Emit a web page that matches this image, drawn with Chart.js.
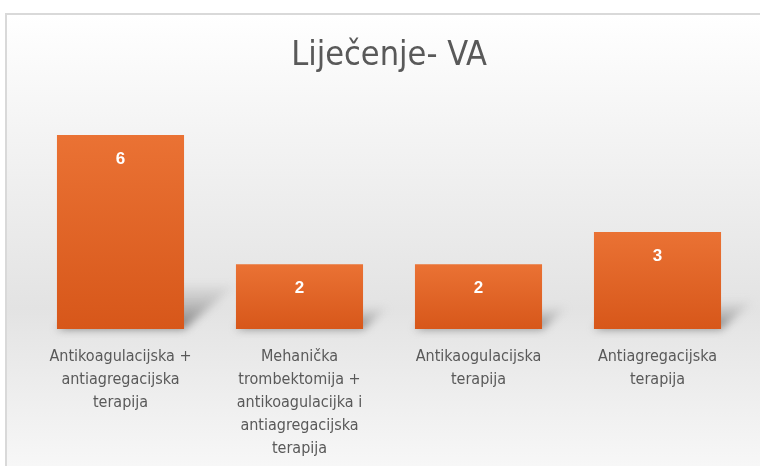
<!DOCTYPE html>
<html>
<head>
<meta charset="utf-8">
<script src="https://cdn.jsdelivr.net/npm/chart.js@4"></script>
<style>
  html, body { margin: 0; padding: 0; background: #fff; }
  #wrap { position: relative; width: 760px; height: 466px; overflow: hidden; }
  #box { position: absolute; left: 5px; top: 13px; width: 770px; height: 470px; border: 2px solid #d9d9d9; box-sizing: border-box; }
  canvas { position: absolute; left: 0; top: 0; }
</style>
</head>
<body>
<div id="wrap">
  <div id="box"></div>
  <canvas id="grafico" width="760" height="466"></canvas>
</div>
<script>
const naslov = "Liječenje- VA";
const kategorije = [
  ["Antikoagulacijska +", "antiagregacijska", "terapija"],
  ["Mehanička", "trombektomija +", "antikoagulacijka i", "antiagregacijska", "terapija"],
  ["Antikaogulacijska", "terapija"],
  ["Antiagregacijska", "terapija"]
];
const vrijednosti = [6, 2, 2, 3];

const ctx = document.getElementById("grafico").getContext("2d");
const fontUski = "'Liberation Sans Narrow', 'DejaVu Sans Condensed', 'Roboto', sans-serif";

// pozadina sa blagim prijelazom
const pozadina = {
  id: "pozadina",
  beforeDraw: (chart) => {
    const c = chart.ctx;
    const g = c.createLinearGradient(0, 15, 0, 466);
    g.addColorStop(0, "#ffffff");
    g.addColorStop(0.65, "#e3e3e3");
    g.addColorStop(1, "#f7f7f7");
    c.save();
    c.fillStyle = g;
    c.fillRect(7, 15, chart.width - 7, chart.height - 15);
    c.restore();
  }
};

// sjena iza stupaca (perspektiva prema gore desno)
const sjena = {
  id: "sjena",
  beforeDatasetsDraw: (chart) => {
    const c = chart.ctx;
    const meta = chart.getDatasetMeta(0);
    meta.data.forEach((bar) => {
      const lijevo = bar.x - bar.width / 2;
      const desno = bar.x + bar.width / 2;
      const dno = bar.base;
      const h = bar.base - bar.y;
      const dx = 12 + h * 0.2;
      const dy = dx * 0.85;
      const g = c.createLinearGradient(0, dno, 0, dno - dy);
      g.addColorStop(0, "rgba(100,100,100,0.85)");
      g.addColorStop(1, "rgba(170,170,170,0.15)");
      c.save();
      c.filter = "blur(4px)";
      c.fillStyle = g;
      c.beginPath();
      c.moveTo(lijevo, dno);
      c.lineTo(desno, dno);
      c.lineTo(desno + dx, dno - dy);
      c.lineTo(lijevo + dx, dno - dy);
      c.closePath();
      c.fill();
      c.restore();
    });
  }
};

// brojevi na vrhu stupaca
const oznake = {
  id: "oznake",
  afterDatasetsDraw: (chart) => {
    const c = chart.ctx;
    const meta = chart.getDatasetMeta(0);
    c.save();
    c.fillStyle = "#ffffff";
    c.font = "bold 17px 'Liberation Sans', Arial, sans-serif";
    c.textAlign = "center";
    c.textBaseline = "middle";
    meta.data.forEach((bar, i) => {
      c.fillText(vrijednosti[i], bar.x, bar.y + 24);
    });
    c.restore();
  }
};

let myChart = new Chart(ctx, {
  type: "bar",
  data: {
    labels: kategorije,
    datasets: [
      {
        data: vrijednosti,
        backgroundColor: (context) => {
          const chart = context.chart;
          if (!chart.chartArea || context.raw === undefined) return "#e46c2c";
          const y = chart.scales.y;
          const vrh = y.getPixelForValue(context.raw);
          const dno = y.getPixelForValue(0);
          const g = chart.ctx.createLinearGradient(0, vrh, 0, dno);
          g.addColorStop(0, "#ea7234");
          g.addColorStop(1, "#d7571a");
          return g;
        },
        borderWidth: 0,
        barPercentage: 0.71,
        categoryPercentage: 1,
      },
    ],
  },
  plugins: [pozadina, sjena, oznake],
  options: {
    responsive: false,
    animation: false,
    layout: { padding: { left: 31, right: 13, top: 20, bottom: 0 } },
    plugins: {
      legend: { display: false },
      tooltip: { enabled: false },
      title: {
        display: true,
        text: naslov,
        color: "#595959",
        font: { family: fontUski, size: 34, weight: "normal", lineHeight: 1.2 },
        padding: { top: 16, bottom: 26 },
      },
    },
    scales: {
      x: {
        grid: { display: false },
        border: { display: false },
        ticks: {
          color: "#595959",
          font: { family: fontUski, size: 16, lineHeight: 1.44 },
          padding: 8,
          maxRotation: 0,
          autoSkip: false,
        },
        afterFit: (scale) => {
          scale.height = 137;
        },
      },
      y: {
        display: false,
        min: 0,
        max: 7,
      },
    },
  },
});
</script>
</body>
</html>
